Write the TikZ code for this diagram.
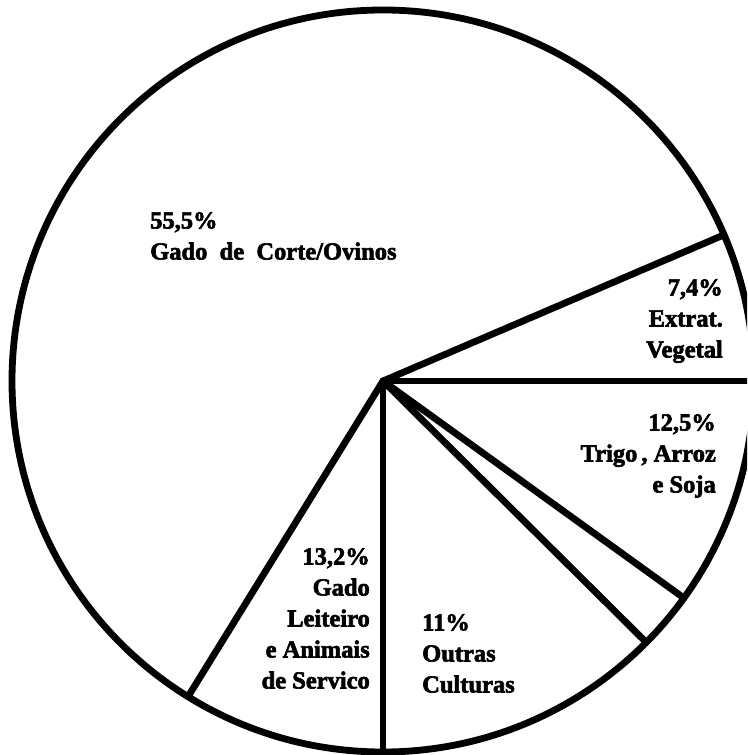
\documentclass[tikz,border=0pt]{standalone}
\usepackage{fontspec}
\newfontfamily\lblfont{Liberation Serif Bold}[FakeBold=2.5]
\usetikzlibrary{calc}
\begin{document}
\begin{tikzpicture}[x=1pt,y=1pt,
  edge/.style={line width=6.8pt,line cap=round,line join=round},
  lbl/.style={inner sep=0pt,font=\lblfont\fontsize{24.5}{31}\selectfont}]
\useasboundingbox (0,0) rectangle (747,755);
\clip (0,0) rectangle (747,755);
\coordinate (c) at (383,374);
\def\R{371}
\coordinate (p1) at ($(c)+(23.2:\R)$);
\coordinate (p2) at ($(c)+(0:\R)$);
\coordinate (p3) at ($(c)+(-35.8:\R)$);
\coordinate (p4) at ($(c)+(-44.8:\R)$);
\coordinate (p5) at ($(c)+(-90:\R)$);
\coordinate (p6) at ($(c)+(-121.7:\R)$);
\draw[edge] (c) circle (\R);
\foreach \p in {p1,p2,p3,p4,p5,p6} \draw[edge] (c) -- (\p);
\node[lbl,anchor=north west,align=left] (l1) at (150,543) {55,5\%\\Gado\ \ de\ \ Corte/Ovinos};
\node[lbl,anchor=north east,align=right] (l2) at (723,476) {7,4\%\\Extrat.\\Vegetal};
\node[lbl,anchor=north east,align=right] (l3) at (716,341) {12,5\%\\Trigo\,, Arroz\\e Soja};
\node[lbl,anchor=north east,align=right] (l4) at (370,207) {13,2\%\\Gado\\Leiteiro\\e Animais\\de Servico};
\node[lbl,anchor=north west,align=left] (l5) at (422,141) {11\%\\Outras\\Culturas};
\end{tikzpicture}
\end{document}
